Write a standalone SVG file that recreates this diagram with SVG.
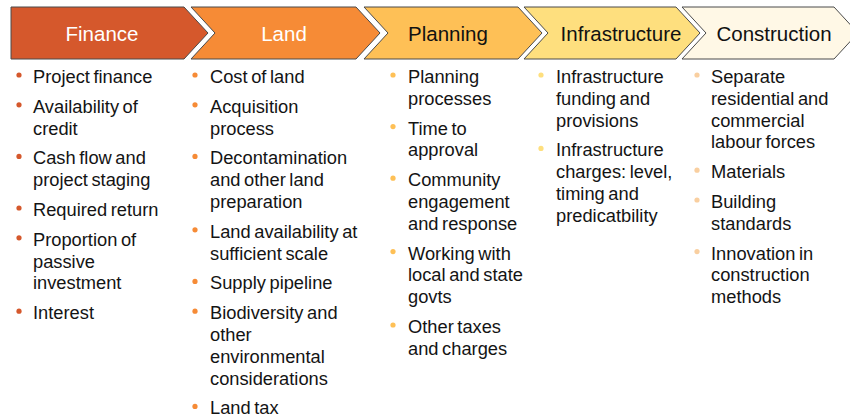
<svg xmlns="http://www.w3.org/2000/svg" width="850" height="417" viewBox="0 0 850 417">
<style>
.chev{stroke:#4a4a4a;stroke-width:1}
.hd{font-family:"Liberation Sans",Arial,sans-serif;font-size:20.5px;text-anchor:middle}
.t{font-family:"Liberation Sans",Arial,sans-serif;font-size:18.3px;fill:#141414;word-spacing:-1.5px}
.c1{fill:#D5582C}.c2{fill:#F68B36}.c3{fill:#FEC056}.c4{fill:#FEDF7E}.c5{fill:#FFF8E6}.b5{fill:#F9CFA0}
</style>
<rect width="850" height="417" fill="#fff"/>
<g id="finance">
<polygon class="chev c1" points="11,7 184,7 208,33 184,59 11,59"/>
<text class="hd" x="102" y="41" fill="#fff">Finance</text>
<g class="c1"><circle cx="19" cy="75" r="2.6"/><circle cx="19" cy="104.8" r="2.6"/><circle cx="19" cy="156.4" r="2.6"/><circle cx="19" cy="208" r="2.6"/><circle cx="19" cy="237.8" r="2.6"/><circle cx="19" cy="311.2" r="2.6"/></g>
<text class="t" x="33" y="83">Project finance</text>
<text class="t" x="33" y="112.8">Availability of</text>
<text class="t" x="33" y="134.6">credit</text>
<text class="t" x="33" y="164.4">Cash flow and</text>
<text class="t" x="33" y="186.2">project staging</text>
<text class="t" x="33" y="216">Required return</text>
<text class="t" x="33" y="245.8">Proportion of</text>
<text class="t" x="33" y="267.6">passive</text>
<text class="t" x="33" y="289.4">investment</text>
<text class="t" x="33" y="319.2">Interest</text>
</g>
<g id="land">
<polygon class="chev c2" points="191,7 356,7 380,33 356,59 191,59 215,33"/>
<text class="hd" x="284" y="41" fill="#fff">Land</text>
<g class="c2"><circle cx="195" cy="75" r="2.6"/><circle cx="195" cy="104.8" r="2.6"/><circle cx="195" cy="156.4" r="2.6"/><circle cx="195" cy="229.8" r="2.6"/><circle cx="195" cy="281.4" r="2.6"/><circle cx="195" cy="311.2" r="2.6"/><circle cx="195" cy="406.4" r="2.6"/></g>
<text class="t" x="210" y="83">Cost of land</text>
<text class="t" x="210" y="112.8">Acquisition</text>
<text class="t" x="210" y="134.6">process</text>
<text class="t" x="210" y="164.4">Decontamination</text>
<text class="t" x="210" y="186.2">and other land</text>
<text class="t" x="210" y="208">preparation</text>
<text class="t" x="210" y="237.8">Land availability at</text>
<text class="t" x="210" y="259.6">sufficient scale</text>
<text class="t" x="210" y="289.4">Supply pipeline</text>
<text class="t" x="210" y="319.2">Biodiversity and</text>
<text class="t" x="210" y="341">other</text>
<text class="t" x="210" y="362.8">environmental</text>
<text class="t" x="210" y="384.6">considerations</text>
<text class="t" x="210" y="414.4">Land tax</text>
</g>
<g id="planning">
<polygon class="chev c3" points="364,7 518,7 542,33 518,59 364,59 388,33"/>
<text class="hd" x="448" y="41" fill="#111">Planning</text>
<g class="c3"><circle cx="393" cy="75" r="2.6"/><circle cx="393" cy="126.6" r="2.6"/><circle cx="393" cy="178.2" r="2.6"/><circle cx="393" cy="251.6" r="2.6"/><circle cx="393" cy="325" r="2.6"/></g>
<text class="t" x="408" y="83">Planning</text>
<text class="t" x="408" y="104.8">processes</text>
<text class="t" x="408" y="134.6">Time to</text>
<text class="t" x="408" y="156.4">approval</text>
<text class="t" x="408" y="186.2">Community</text>
<text class="t" x="408" y="208">engagement</text>
<text class="t" x="408" y="229.8">and response</text>
<text class="t" x="408" y="259.6">Working with</text>
<text class="t" x="408" y="281.4">local and state</text>
<text class="t" x="408" y="303.2">govts</text>
<text class="t" x="408" y="333">Other taxes</text>
<text class="t" x="408" y="354.8">and charges</text>
</g>
<g id="infrastructure">
<polygon class="chev c4" points="524,7 676,7 700,33 676,59 524,59 548,33"/>
<text class="hd" x="621" y="41" fill="#111">Infrastructure</text>
<g class="c4"><circle cx="541" cy="75" r="2.6"/><circle cx="541" cy="148.4" r="2.6"/></g>
<text class="t" x="556" y="83">Infrastructure</text>
<text class="t" x="556" y="104.8">funding and</text>
<text class="t" x="556" y="126.6">provisions</text>
<text class="t" x="556" y="156.4">Infrastructure</text>
<text class="t" x="556" y="178.2">charges: level,</text>
<text class="t" x="556" y="200">timing and</text>
<text class="t" x="556" y="221.8">predicatbility</text>
</g>
<g id="construction">
<polygon class="chev c5" points="682,7 834,7 858,33 834,59 682,59 706,33"/>
<text class="hd" x="774" y="41" fill="#111">Construction</text>
<g class="b5"><circle cx="697" cy="75" r="2.6"/><circle cx="697" cy="170.2" r="2.6"/><circle cx="697" cy="200" r="2.6"/><circle cx="697" cy="251.6" r="2.6"/></g>
<text class="t" x="711" y="83">Separate</text>
<text class="t" x="711" y="104.8">residential and</text>
<text class="t" x="711" y="126.6">commercial</text>
<text class="t" x="711" y="148.4">labour forces</text>
<text class="t" x="711" y="178.2">Materials</text>
<text class="t" x="711" y="208">Building</text>
<text class="t" x="711" y="229.8">standards</text>
<text class="t" x="711" y="259.6">Innovation in</text>
<text class="t" x="711" y="281.4">construction</text>
<text class="t" x="711" y="303.2">methods</text>
</g>
<g id="connectors"></g>
</svg>
